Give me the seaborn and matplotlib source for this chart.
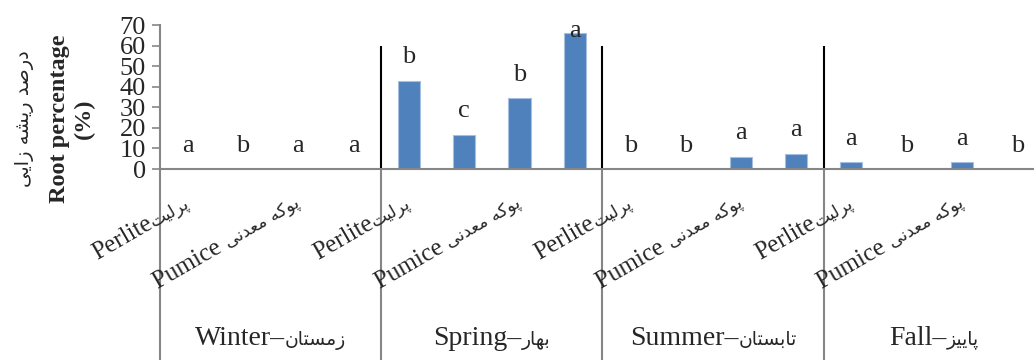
import numpy as np
import pandas as pd
import seaborn as sns
import matplotlib.pyplot as plt
from matplotlib.font_manager import FontProperties
from matplotlib.transforms import ScaledTranslation

# data
seasons_en = ['Winter', 'Spring', 'Summer', 'Fall']
# Persian words in visual (left-to-right) order, presentation forms
seasons_fa = ['\uFEE5\uFE8E\uFE98\uFEB4\uFEE3\uFEAF',
              '\uFEAD\uFE8E\uFEEC\uFE91',
              '\uFEE5\uFE8E\uFE98\uFEB4\uFE91\uFE8E\uFE97',
              '\uFEB0\uFBFF\uFBFE\uFE8E\uFB58']
substrates_en = ['Perlite', 'Pumice ']
substrates_fa = ['\uFE96\uFBFF\uFEDF\uFEAE\uFB58',
                 '\uFBFD\uFEE7\uFEAA\uFECC\uFEE3 \uFEEA\uFB90\uFEEE\uFB58']
values = [0, 0, 0, 0,
          43, 16.7, 34.5, 66,
          0, 0, 6, 7.3,
          3.3, 0, 3.3, 0]
letters = ['a', 'b', 'a', 'a',
           'b', 'c', 'b', 'a',
           'b', 'b', 'a', 'a',
           'a', 'b', 'a', 'b']
ylabel_fa = '\uFBFD\uFBFE\uFE8D\uFEAF \uFEEA\uFEB8\uFBFE\uFEAD \uFEAA\uFEBB\uFEAD\uFEA9'

df = pd.DataFrame({'pos': np.arange(len(values)), 'value': values})

sns.set_style('white')
plt.rcParams['font.family'] = ['Liberation Serif', 'DejaVu Sans']

fig = plt.figure(figsize=(10.34, 3.6), dpi=100)
ax = fig.add_axes([160 / 1034, 191 / 360, 885 / 1034, 144 / 360])

sns.barplot(data=df, x='pos', y='value', color='#4F81BD', width=0.4,
            edgecolor='#A7BFDE', linewidth=0.8, saturation=1, ax=ax)

ax.set_xlim(-0.5, 15.5)
ax.set_ylim(0, 70)
ax.set_yticks(range(0, 71, 10))
ax.tick_params(axis='y', labelsize=19, length=6, width=1.2, color='#868686',
               direction='out', left=True, pad=4)
ax.set_xticks([])
ax.set_xlabel('')
ax.set_ylabel('')
for s in ['top', 'right']:
    ax.spines[s].set_visible(False)
for s in ['left', 'bottom']:
    ax.spines[s].set_color('#868686')
    ax.spines[s].set_linewidth(1.5)

# significance letters above bars
for i, (v, l) in enumerate(zip(values, letters)):
    ax.text(i, min(v + 8.5, 64), l, ha='center', va='baseline', fontsize=19)

# black season dividers inside the plot
n = len(seasons_en)
bounds = [4 * k - 0.5 for k in range(1, n)]
ax.vlines(bounds, 0, 60, color='black', linewidth=1.5)

# grey category separators below the axis
tr = ax.get_xaxis_transform()
for b in [4 * k - 0.5 for k in range(n + 1)]:
    ax.plot([b, b], [0, -1.4], color='#868686', linewidth=1.5,
            transform=tr, clip_on=False)

renderer = fig.canvas.get_renderer()
dpi = fig.dpi


def fa_width(s, size):
    w, h, d = renderer.get_text_width_height_descent(
        s, FontProperties(family='DejaVu Sans', size=size), ismath=False)
    return w


# rotated substrate labels
rot = 30
th = np.deg2rad(rot)
en_size, fa_size = 18, 12.5
for k in range(n):
    for j, (en, fa) in enumerate(zip(substrates_en, substrates_fa)):
        x = 4 * k + 2 * j + 0.05
        y = -0.26
        ax.text(x, y, fa, transform=tr, rotation=rot, rotation_mode='anchor',
                ha='right', va='baseline', fontsize=fa_size,
                family='DejaVu Sans')
        w = fa_width(fa, fa_size) * 72 / dpi
        off = ScaledTranslation(-w * np.cos(th) / 72, -w * np.sin(th) / 72,
                                fig.dpi_scale_trans)
        ax.text(x, y, en, transform=tr + off, rotation=rot,
                rotation_mode='anchor', ha='right', va='baseline',
                fontsize=en_size)

# season labels
s_size, sfa_size = 20, 13.5
for k in range(n):
    en = seasons_en[k] + '\u2013'
    fa = seasons_fa[k]
    w_en = renderer.get_text_width_height_descent(
        en, FontProperties(family='Liberation Serif', size=s_size), ismath=False)[0]
    w_fa = fa_width(fa, sfa_size)
    shift = (w_en - w_fa) / 2 * 72 / dpi
    off = ScaledTranslation(shift / 72, 0, fig.dpi_scale_trans)
    cx = 4 * k + 1.5
    ax.text(cx, -1.22, en, transform=tr + off, ha='right', va='baseline',
            fontsize=s_size)
    ax.text(cx, -1.22, fa, transform=tr + off, ha='left', va='baseline',
            fontsize=sfa_size, family='DejaVu Sans')

# y axis title, three lines
fig.text(25 / 1034, 1 - 119 / 360, ylabel_fa, rotation=90, ha='center',
         va='center', fontsize=14, family='DejaVu Sans')
fig.text(60 / 1034, 1 - 119 / 360, 'Root percentage', rotation=90,
         ha='center', va='center', fontsize=17.5, fontweight='bold')
fig.text(84 / 1034, 1 - 119 / 360, '(%)', rotation=90, ha='center',
         va='center', fontsize=17.5, fontweight='bold')

fig.savefig('out.png', dpi=100)
